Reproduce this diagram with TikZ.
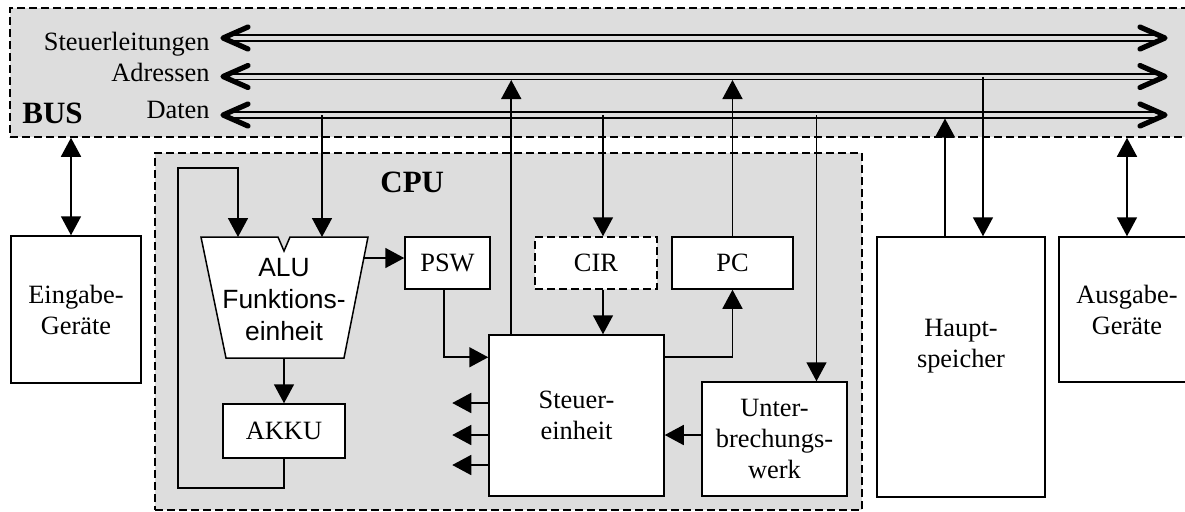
\documentclass[tikz,border=0pt]{standalone}
\usepackage{fontspec}
\setmainfont{Liberation Serif}
\newfontfamily\alufont{Liberation Sans}
\usepackage{tikz}
\usetikzlibrary{arrows.meta}
\definecolor{busgray}{RGB}{221,221,221}

\begin{document}
\begin{tikzpicture}[x=0.5pt, y=-0.5pt,
    txt/.style={font=\fontsize{13.2}{15.5}\selectfont, align=center},
    alutxt/.style={align=center, font=\fontsize{13.2}{16}\selectfont\alufont},
    head/.style={font=\fontsize{15.5}{18}\selectfont\bfseries, inner sep=0pt},
    block/.style={draw, fill=white, line width=0.75pt},
    box/.style={block, inner sep=0pt, txt},
    dashbox/.style={dash pattern=on 4pt off 2pt},
    area/.style={draw, fill=busgray, line width=0.75pt, dashbox, inner sep=0pt},
    arr/.style={line width=0.8pt, -{Triangle[length=9.5pt, width=10pt]}},
    darr/.style={line width=0.8pt, {Triangle[length=9.5pt, width=10pt]}-{Triangle[length=9.5pt, width=10pt]}},
    tobus/.style={shorten >=1.75pt},
    busline/.style={double=busgray, line width=0.8pt, double distance=2pt, shorten <=1.5pt, shorten >=1.5pt},
    barb/.style={line width=2.6pt, line cap=round, line join=round}]
    \useasboundingbox (0,0) rectangle (1185,511);
    \clip (0,0) rectangle (1185,511);

    % Bus and CPU areas
    \node[area, minimum width=592.5pt, minimum height=64.5pt] (bus) at (602.5,72.5) {};
    \node[area, minimum width=353.5pt, minimum height=178.5pt] (cpu) at (508.5,331.5) {};
    \node[head, anchor=base west] (bus-txt) at (22,123) {BUS};
    \node[head, anchor=base west] (cpu-txt) at (380,192) {CPU};

    % Bus lines
    \coordinate (sl-w) at (223,38);   \coordinate (sl-e) at (1165,38);
    \coordinate (ad-w) at (223,76.5); \coordinate (ad-e) at (1165,76.5);
    \coordinate (da-w) at (223,115);  \coordinate (da-e) at (1165,115);
    \node[txt, anchor=base east, inner sep=0pt] (sl-txt) at (210,50) {Steuerleitungen};
    \node[txt, anchor=base east, inner sep=0pt] (ad-txt) at (210,81.5) {Adressen};
    \node[txt, anchor=base east, inner sep=0pt] (da-txt) at (210,118) {Daten};
    \foreach \bl in {sl,ad,da} {
        \draw[busline] (\bl-w) -- (\bl-e);
        \draw[barb] ([shift={(25,-11)}]\bl-w) -- (\bl-w) -- ([shift={(25,11)}]\bl-w);
        \draw[barb] ([shift={(-25,-11)}]\bl-e) -- (\bl-e) -- ([shift={(-25,11)}]\bl-e);
    }

    % Devices and memory
    \node[box, minimum width=65pt, minimum height=73.5pt] (eingabe) at (76,309.5) {Eingabe-\\Geräte};
    \node[box, minimum width=68pt, minimum height=72.5pt] (ausgabe) at (1127,309.5) {Ausgabe-\\Geräte};
    \node[block, inner sep=0pt, minimum width=84pt, minimum height=130pt] (haupt) at (961,367) {};
    \node[txt] (haupt-txt) at (961,346) {Haupt-\\speicher};

    % CPU parts
    \draw[block] (201,237) -- (278,237) -- (284,251) -- (290,237) -- (368,237)
        -- (344,358) -- (226,358) -- cycle;
    \node[alutxt] (alu) at (284,300) {ALU\\Funktions-\\einheit};
    \coordinate (alu-a) at (238,237);
    \coordinate (alu-b) at (322,237);
    \coordinate (alu-c) at (284,358);
    \coordinate (alu-d) at (364,258);
    \node[box, minimum width=42.5pt, minimum height=26pt] (psw) at (447.5,263) {PSW};
    \node[box, dashbox, minimum width=61pt, minimum height=26pt] (cir) at (596,263) {CIR};
    \node[box, minimum width=60.5pt, minimum height=26pt] (pc) at (732.5,263) {PC};
    \node[box, minimum width=61pt, minimum height=27pt] (akku) at (284,431) {AKKU};
    \node[box, minimum width=87.5pt, minimum height=80.5pt] (steuer) at (576.5,415.5) {Steuer-\\einheit};
    \node[box, minimum width=72.5pt, minimum height=57pt] (unter) at (774.5,439) {Unter-\\brechungs-\\werk};

    % Attachment points
    \coordinate (ein-io) at ([xshift=-2.5pt]eingabe.north);
    \coordinate (cir-in) at ([xshift=3.5pt]cir.north);
    \coordinate (cir-out) at ([xshift=3.5pt]cir.south);
    \coordinate (st-up) at ([xshift=11.5pt]steuer.north west);
    \coordinate (st-l) at ([yshift=-11.5pt]steuer.north west);
    \coordinate (st-r) at ([yshift=-11.5pt]steuer.north east);
    \coordinate (psw-out) at ([xshift=-1.75pt]psw.south);
    \coordinate (unt-in) at ([xshift=21pt]unter.north);
    \coordinate (unt-out) at ([yshift=2pt]unter.west);
    \coordinate (hs-out) at ([xshift=-8pt]haupt.north);
    \coordinate (hs-in) at ([xshift=11pt]haupt.north);
    \coordinate (loop) at (178,168);

    % Connections
    \draw[darr] (ein-io) -- (ein-io |- bus.south);
    \draw[darr] (ausgabe.north) -- (ausgabe.north |- bus.south);
    \draw[arr] (da-w -| alu-b) -- (alu-b);
    \draw[arr] (akku.south) -- ++(0,29) -| (loop) -| (alu-a);
    \draw[arr] (alu-d) -- (alu-d -| psw.west);
    \draw[arr] (alu-c) -- (akku.north);
    \draw[arr] (psw-out) |- (st-l);
    \draw[arr] (st-r) -| (pc.south);
    \draw[arr, tobus] (st-up) -- (st-up |- ad-w);
    \draw[arr, tobus] (pc.north) -- (pc.north |- ad-w);
    \draw[arr] (cir-in |- da-w) -- (cir-in);
    \draw[arr] (cir-out) -- (cir-out |- steuer.north);
    \draw[arr] (unt-in |- da-w) -- (unt-in);
    \draw[arr] (unt-out) -- (unt-out -| steuer.east);
    \foreach \dy in {6.25,-9.75,-24.75}
        \draw[arr] ([yshift=\dy pt]steuer.west) -- ++(-36,0);
    \draw[arr, tobus] (hs-out) -- (hs-out |- da-w);
    \draw[arr] (hs-in |- ad-w) -- (hs-in);
\end{tikzpicture}
\end{document}
